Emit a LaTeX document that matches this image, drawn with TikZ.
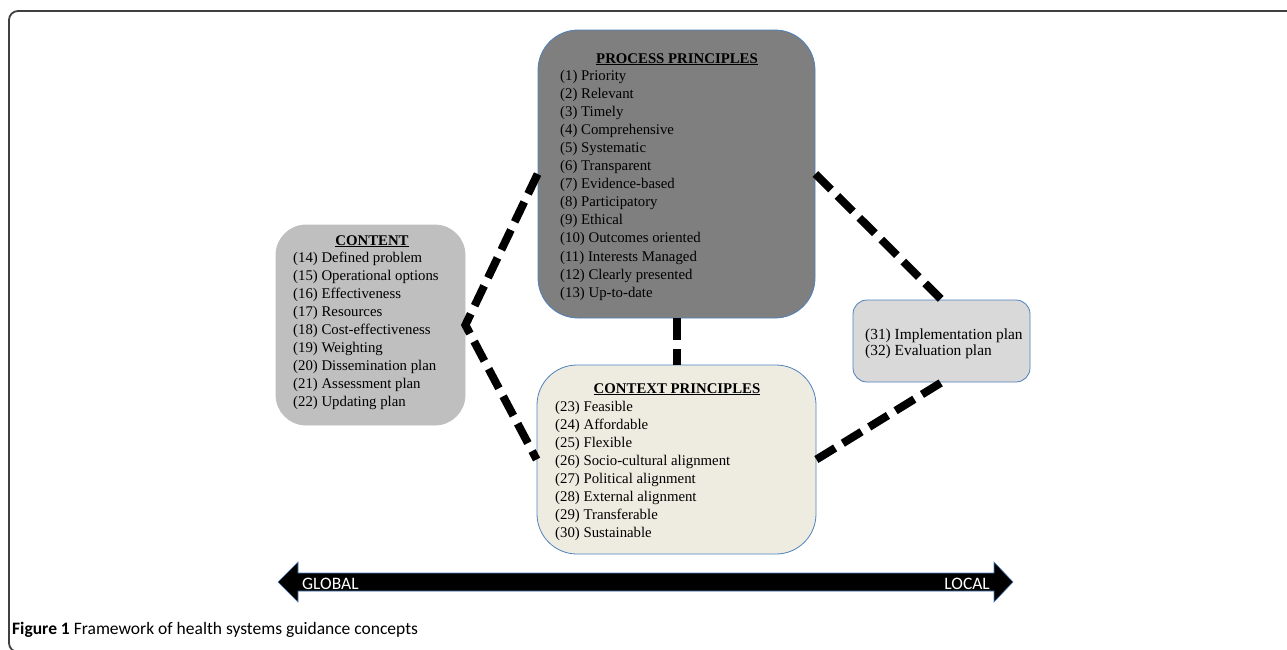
\documentclass[tikz,border=0pt]{standalone}
\usepackage{fontspec}
\setmainfont{Liberation Serif}
\newfontfamily\calib{Carlito}
\definecolor{boxblue}{HTML}{4F81BD}
\definecolor{procgray}{HTML}{7F7F7F}
\definecolor{contgray}{HTML}{BFBFBF}
\definecolor{ctxbeige}{HTML}{EEECE1}
\definecolor{rgray}{HTML}{D9D9D9}
\definecolor{framegray}{HTML}{404040}
\begin{document}
\begin{tikzpicture}[x=1pt,y=-1pt,
  box/.style={draw=boxblue, line width=0.8pt, inner sep=0pt, shape=rectangle},
  item/.style={anchor=base west, inner sep=0pt, font=\fontsize{14.8}{18}\selectfont},
  ritem/.style={anchor=base west, inner sep=0pt, font=\fontsize{15.4}{18}\selectfont},
  boxtitle/.style={anchor=base, inner sep=0pt, font=\bfseries\fontsize{14.8}{18}\selectfont},
  conn/.style={line width=8pt, dash pattern=on 22pt off 9pt, black},
  barlabel/.style={anchor=base west, inner sep=0pt, text=white, font=\calib\fontsize{17.5}{20}\selectfont}]
\useasboundingbox (0,0) rectangle (1287,649);
\begin{scope}
\clip (0,0) rectangle (1287,649);
\draw[framegray, line width=1.8pt, rounded corners=9pt] (9,11) rectangle (1320,652);
\end{scope}

% boxes
\node[box, fill=procgray, minimum width=277pt, minimum height=288pt, rounded corners=40pt] (proc) at (676.5,174) {};
\node[box, draw=contgray, fill=contgray, minimum width=189pt, minimum height=200pt, rounded corners=30pt] (cont) at (370.5,325) {};
\node[box, fill=ctxbeige, minimum width=279pt, minimum height=189pt, rounded corners=40pt] (ctx) at (676.5,459.5) {};
\node[box, fill=rgray, minimum width=177pt, minimum height=82pt, rounded corners=14pt] (rbox) at (941.5,341) {};

% connectors
\draw[conn] (proc.west) -- (cont.east) -- (ctx.west);
\draw[conn] (proc.south) -- (ctx.north);
\draw[conn] (proc.east) -- (rbox.north);
\draw[conn] (ctx.east) -- (rbox.south);

% process text
\node[boxtitle] (ptitle) at (677,63) {\underline{PROCESS PRINCIPLES}};
\foreach [count=\i] \t in {{(1) Priority},{(2) Relevant},{(3) Timely},{(4) Comprehensive},{(5) Systematic},{(6) Transparent},{(7) Evidence-based},{(8) Participatory},{(9) Ethical},{(10) Outcomes oriented},{(11) Interests Managed},{(12) Clearly presented},{(13) Up-to-date}}
  \node[item] (p\i) at (560,{80+18.1*(\i-1)}) {\t};

% content text
\node[boxtitle] (ctitle) at (372,245) {\underline{CONTENT}};
\foreach [count=\i] \t in {{(14) Defined problem},{(15) Operational options},{(16) Effectiveness},{(17) Resources},{(18) Cost-effectiveness},{(19) Weighting},{(20) Dissemination plan},{(21) Assessment plan},{(22) Updating plan}}
  \node[item] (c\i) at (293,{262+18.1*(\i-1)}) {\t};

% context text
\node[boxtitle] (xtitle) at (677,393) {\underline{CONTEXT PRINCIPLES}};
\foreach [count=\i] \t in {{(23) Feasible},{(24) Affordable},{(25) Flexible},{(26) Socio-cultural alignment},{(27) Political alignment},{(28) External alignment},{(29) Transferable},{(30) Sustainable}}
  \node[item] (x\i) at (555,{411+18.1*(\i-1)}) {\t};

% right box text
\node[ritem] (r1) at (865,339) {(31) Implementation plan};
\node[ritem] (r2) at (865,355) {(32) Evaluation plan};

% global-local arrow
\fill[black, draw=boxblue, line width=0.6pt] (278,582) -- (298,562) -- (298,573) -- (994,573) -- (994,562) -- (1013,582) -- (994,602) -- (994,591) -- (298,591) -- (298,602) -- cycle;
\node[barlabel] (glob) at (302,589) {GLOBAL};
\node[barlabel, anchor=base east] (loc) at (990,589) {LOCAL};

% caption
\node[anchor=base west, inner sep=0pt, font=\calib\fontsize{17.5}{20}\selectfont] (cap) at (12,634) {\textbf{Figure 1} Framework of health systems guidance concepts};
\end{tikzpicture}
\end{document}
